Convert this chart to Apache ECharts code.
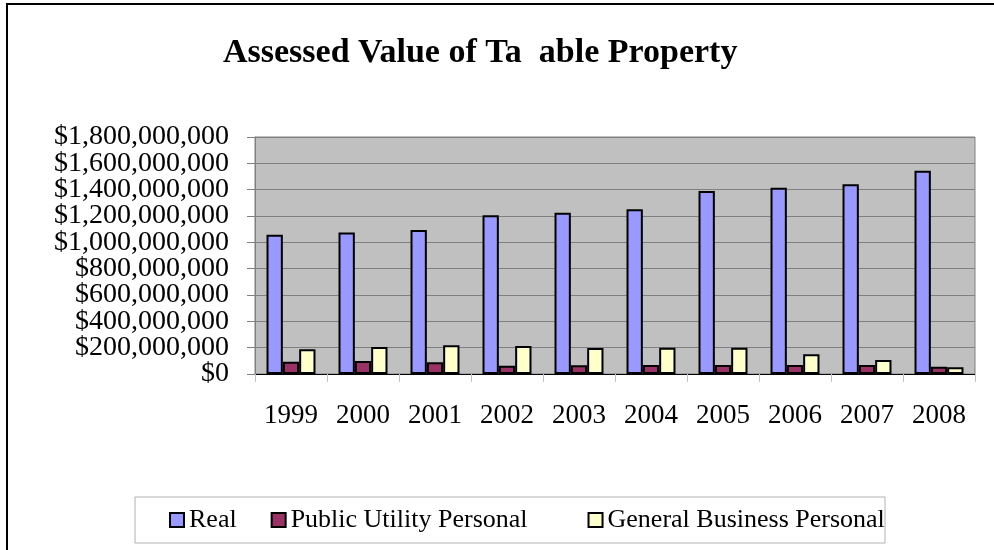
<!DOCTYPE html>
<html>
<head>
<meta charset="utf-8">
<script src="https://cdn.jsdelivr.net/npm/echarts@6/dist/echarts.min.js"></script>
<style>
  html, body { margin: 0; padding: 0; background: #fff; }
  #main { width: 994px; height: 550px; }
</style>
</head>
<body>
<div id="main"></div>
<script>
// years on the x axis
var years = ['1999', '2000', '2001', '2002', '2003', '2004', '2005', '2006', '2007', '2008'];
// values (dollars)
var realValues = [1058000000, 1074000000, 1094000000, 1205000000, 1225000000, 1251000000, 1390000000, 1415000000, 1441000000, 1544000000];
var publicUtility = [93000000, 99000000, 89000000, 63000000, 66000000, 68000000, 68000000, 68000000, 68000000, 55000000];
var generalBusiness = [188000000, 205000000, 218000000, 213000000, 197000000, 200000000, 200000000, 150000000, 106000000, 51000000];
var seriesNames = ['Real', 'Public Utility Personal', 'General Business Personal'];
// y tick labels, bottom to top
var yTickLabels = ['$0', '$200,000,000', '$400,000,000', '$600,000,000', '$800,000,000',
    '$1,000,000,000', '$1,200,000,000', '$1,400,000,000', '$1,600,000,000', '$1,800,000,000'];

var font = '"Liberation Serif", "Times New Roman", serif';

var chart = echarts.init(document.getElementById('main'));

var option = {
    backgroundColor: '#fff',
    animation: false,
    textStyle: { fontFamily: font },
    title: {
        text: 'Assessed Value of Ta  able Property',
        left: 223,
        top: 36,
        padding: 0,
        textStyle: { fontFamily: font, fontSize: 34, fontWeight: 'bold', color: '#000' }
    },
    graphic: [{
        type: 'rect',
        shape: { x: 7, y: 4, width: 1100, height: 700 },
        style: { fill: 'none', stroke: '#000', lineWidth: 2 },
        silent: true
    }, {
        // legend frame
        type: 'rect',
        shape: { x: 135, y: 497, width: 750, height: 46 },
        style: { fill: 'none', stroke: '#b0b0b0', lineWidth: 1 },
        silent: true
    }],
    legend: {
        left: 169,
        top: 507,
        padding: 0,
        itemGap: 34,
        icon: 'rect',
        itemWidth: 14,
        itemHeight: 14,
        itemStyle: { borderColor: '#000', borderWidth: 2 },
        textStyle: { fontFamily: font, fontSize: 26, color: '#000' },
        formatter: function (name) {
            // wider gap after the second item, as in the original
            return name === seriesNames[1] ? name + '    ' : name;
        },
        data: seriesNames
    },
    grid: {
        left: 255,
        top: 137,
        right: 19,
        bottom: 176,
        show: true,
        backgroundColor: '#C0C0C0',
        borderColor: '#808080',
        borderWidth: 1,
        containLabel: false
    },
    xAxis: {
        type: 'category',
        data: years,
        axisLine: { lineStyle: { color: '#000', width: 1 } },
        axisTick: { show: true, length: 8, lineStyle: { color: '#c0c0c0' } },
        axisLabel: { fontFamily: font, fontSize: 27, color: '#000', margin: 28 }
    },
    yAxis: [{
        type: 'value',
        min: 0,
        max: 1800000000,
        interval: 200000000,
        axisLine: { show: true, lineStyle: { color: '#808080' } },
        axisTick: { show: true, length: 8, lineStyle: { color: '#808080' } },
        splitLine: { lineStyle: { color: '#808080', width: 1 } },
        axisLabel: { show: false }
    }, {
        // label-only axis so every tick label is kept
        type: 'category',
        position: 'left',
        boundaryGap: false,
        data: yTickLabels,
        axisLine: { show: false },
        axisTick: { show: false },
        splitLine: { show: false },
        axisLabel: { interval: 0, fontFamily: font, fontSize: 28, color: '#000', margin: 26 }
    }],
    series: [{
        name: seriesNames[0],
        type: 'bar',
        data: realValues,
        barGap: '0%',
        barCategoryGap: '32%',
        itemStyle: { color: '#9999FF', borderColor: '#000', borderWidth: 2 }
    }, {
        name: seriesNames[1],
        type: 'bar',
        data: publicUtility,
        itemStyle: { color: '#993366', borderColor: '#000', borderWidth: 2 }
    }, {
        name: seriesNames[2],
        type: 'bar',
        data: generalBusiness,
        itemStyle: { color: '#FFFFCC', borderColor: '#000', borderWidth: 2 }
    }]
};

chart.setOption(option);
</script>
</body>
</html>
